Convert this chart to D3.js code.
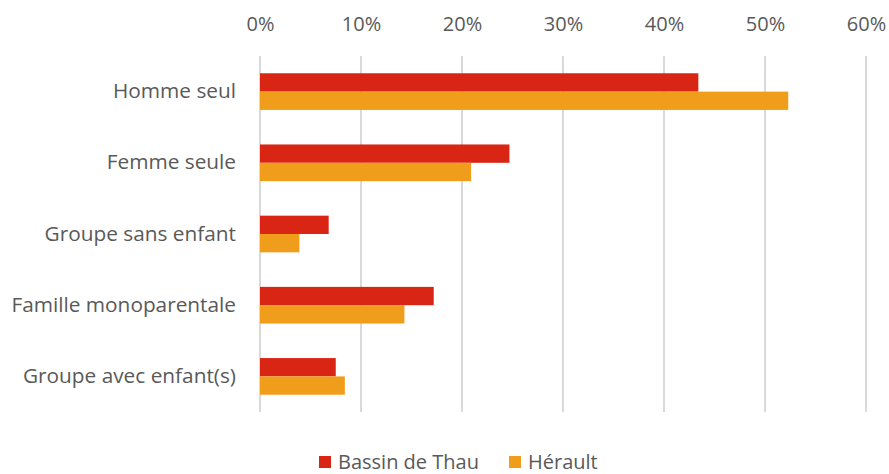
<!DOCTYPE html>
<html>
<head>
<meta charset="utf-8">
<script src="https://cdn.jsdelivr.net/npm/d3@7"></script>
<style>
  body { margin: 0; background: #fff; }
  svg text { font-family: "Open Sans", sans-serif; fill: #595959; }
</style>
</head>
<body>
<svg id="chart" width="889" height="474"></svg>
<script>
let width = 889
let height = 474

// données
let categories = ["Homme seul", "Femme seule", "Groupe sans enfant", "Famille monoparentale", "Groupe avec enfant(s)"]
let seriesNames = ["Bassin de Thau", "Hérault"]
let bassinValues = [0.434, 0.247, 0.068, 0.172, 0.075]
let heraultValues = [0.523, 0.209, 0.039, 0.143, 0.084]
let tickValues = [0, 0.1, 0.2, 0.3, 0.4, 0.5, 0.6]
let colors = ["#D92514", "#F09D1C"]

let margin = { top: 56, right: 23, bottom: 62, left: 260 }

let svg = d3.select("#chart")

let xScale = d3.scaleLinear()
    .domain([0, 0.6])
    .range([margin.left, width - margin.right])

let yScale = d3.scaleBand()
    .domain(categories)
    .range([margin.top, height - margin.bottom])
    .paddingInner(0.485)
    .paddingOuter(0.2425)

let subScale = d3.scaleBand()
    .domain(seriesNames)
    .range([0, yScale.bandwidth()])

// lignes de grille
svg.append("g")
    .selectAll("line")
    .data(tickValues)
    .enter()
    .append("line")
    .attr("x1", d => xScale(d))
    .attr("x2", d => xScale(d))
    .attr("y1", margin.top)
    .attr("y2", height - margin.bottom)
    .attr("stroke", "#d9d9d9")
    .attr("stroke-width", 2)

// axe du haut
let xAxis = svg.append("g")
    .attr("transform", "translate(0," + 26 + ")")
    .call(d3.axisTop(xScale).tickValues(tickValues).tickFormat(d3.format(".0%")).tickSize(0))
xAxis.select(".domain").remove()
xAxis.selectAll("text")
    .attr("font-size", "20px")
    .attr("dy", "0.4em")
    .style("fill", "#595959")

// axe de gauche
let yAxis = svg.append("g")
    .attr("transform", "translate(" + (margin.left - 24) + ",0)")
    .call(d3.axisLeft(yScale).tickSize(0).tickPadding(0))
yAxis.select(".domain").remove()
yAxis.selectAll("text")
    .attr("font-size", "20.8px")
    .style("fill", "#595959")

// barres
let rows = categories.map((c, i) => ({ key: c, values: [bassinValues[i], heraultValues[i]] }))

let groups = svg.append("g")
    .selectAll("g")
    .data(rows)
    .enter()
    .append("g")
    .attr("transform", d => "translate(0," + yScale(d.key) + ")")

groups.selectAll("rect")
    .data(d => d.values.map((v, j) => ({ name: seriesNames[j], value: v, color: colors[j] })))
    .enter()
    .append("rect")
    .attr("x", xScale(0))
    .attr("y", d => subScale(d.name))
    .attr("width", d => xScale(d.value) - xScale(0))
    .attr("height", subScale.bandwidth())
    .attr("fill", d => d.color)

// légende
let legendX = [319, 509]
let legend = svg.append("g")
    .selectAll("g")
    .data(seriesNames)
    .enter()
    .append("g")
    .attr("transform", (d, i) => "translate(" + legendX[i] + "," + 456 + ")")
legend.append("rect")
    .attr("width", 12)
    .attr("height", 12)
    .attr("fill", (d, i) => colors[i])
legend.append("text")
    .attr("x", 19)
    .attr("y", 12.5)
    .attr("font-size", "20px")
    .text(d => d)
</script>
</body>
</html>
